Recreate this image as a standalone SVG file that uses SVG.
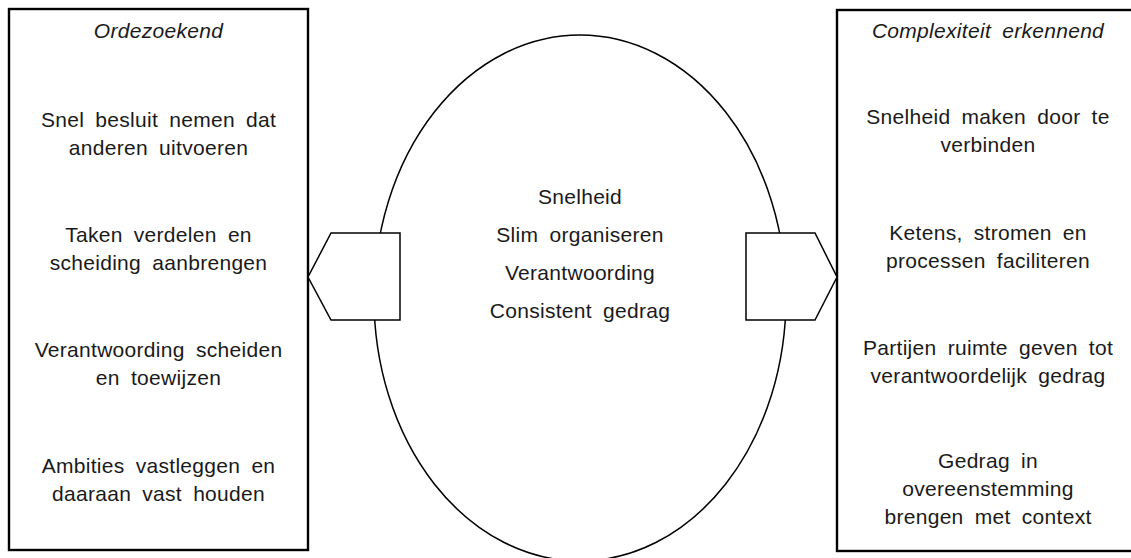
<svg xmlns="http://www.w3.org/2000/svg" width="1131" height="558" viewBox="0 0 1131 558">
  <style>
    .box { fill: #ffffff; stroke: #000000; stroke-width: 2.4; }
    .shape { fill: #ffffff; stroke: #000000; stroke-width: 1.5; }
    .t { font-family: "Liberation Sans", Arial, sans-serif; font-size: 21px; fill: #1a1a1a; text-anchor: middle; word-spacing: 5px; letter-spacing: 0.3px; }
    .title { font-style: italic; }
  </style>

  <!-- left panel -->
  <g id="ordezoekend">
    <rect class="box" x="9" y="9" width="299" height="541"/>
    <text class="t title" x="158.5" y="38">Ordezoekend</text>
    <text class="t" x="158.5" y="127">Snel besluit nemen dat</text>
    <text class="t" x="158.5" y="155">anderen uitvoeren</text>
    <text class="t" x="158.5" y="242">Taken verdelen en</text>
    <text class="t" x="158.5" y="270">scheiding aanbrengen</text>
    <text class="t" x="158.5" y="357">Verantwoording scheiden</text>
    <text class="t" x="158.5" y="385">en toewijzen</text>
    <text class="t" x="158.5" y="473">Ambities vastleggen en</text>
    <text class="t" x="158.5" y="501">daaraan vast houden</text>
  </g>

  <!-- right panel -->
  <g id="complexiteit-erkennend">
    <rect class="box" x="837" y="10" width="302" height="541"/>
    <text class="t title" x="988" y="38">Complexiteit erkennend</text>
    <text class="t" x="988" y="124">Snelheid maken door te</text>
    <text class="t" x="988" y="152">verbinden</text>
    <text class="t" x="988" y="240">Ketens, stromen en</text>
    <text class="t" x="988" y="268">processen faciliteren</text>
    <text class="t" x="988" y="355">Partijen ruimte geven tot</text>
    <text class="t" x="988" y="383">verantwoordelijk gedrag</text>
    <text class="t" x="988" y="468">Gedrag in</text>
    <text class="t" x="988" y="496">overeenstemming</text>
    <text class="t" x="988" y="524">brengen met context</text>
  </g>

  <!-- central ellipse -->
  <g id="kern">
    <ellipse class="shape" cx="580" cy="298" rx="206" ry="263"/>
    <text class="t" x="580" y="204">Snelheid</text>
    <text class="t" x="580" y="242">Slim organiseren</text>
    <text class="t" x="580" y="280">Verantwoording</text>
    <text class="t" x="580" y="318">Consistent gedrag</text>
  </g>

  <!-- pointers from the ellipse towards each panel -->
  <g id="connectors">
    <polygon class="shape" points="400,233 331,233 308,277 331,320 400,320"/>
    <polygon class="shape" points="746,233 815,233 837,277 815,320 746,320"/>
  </g>
</svg>
